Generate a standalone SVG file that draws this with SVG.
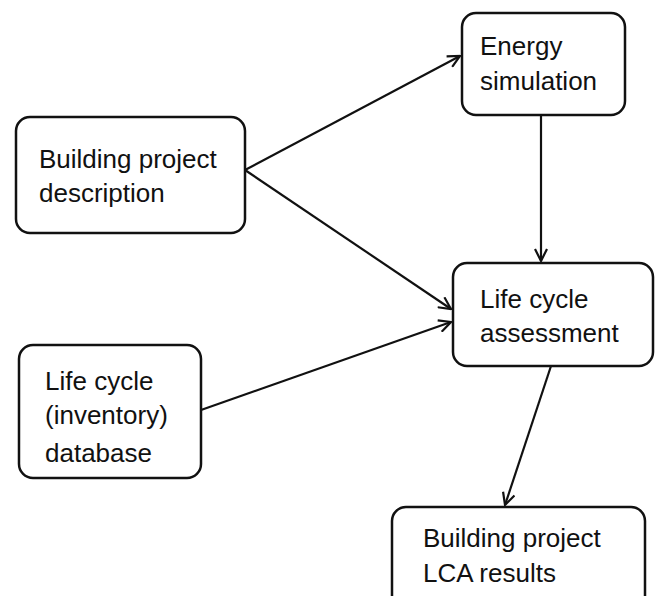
<svg xmlns="http://www.w3.org/2000/svg" width="658" height="596" viewBox="0 0 658 596">
<style>
.box{fill:#fff;stroke:#111;stroke-width:2.5}
.t{font-family:"Liberation Sans",Arial,sans-serif;font-size:26px;fill:#111}
.c{stroke:#111;stroke-width:2.2;fill:none;marker-end:url(#ah)}
</style>
<defs>
<marker id="ah" viewBox="0 0 14 14" refX="13" refY="7" markerWidth="14" markerHeight="14" markerUnits="userSpaceOnUse" orient="auto">
<path d="M1,1 L13,7 L1,13" fill="none" stroke="#111" stroke-width="2.2"/>
</marker>
</defs>
<rect width="658" height="596" fill="#fff"/>
<g id="connectors">
<line class="c" x1="245" y1="170" x2="460" y2="56"/>
<line class="c" x1="245" y1="170" x2="451" y2="309"/>
<line class="c" x1="201" y1="410" x2="451" y2="322"/>
<line class="c" x1="541" y1="115" x2="541" y2="261"/>
<line class="c" x1="551" y1="366" x2="505" y2="505"/>
</g>
<g id="building-project-description">
<rect class="box" x="16" y="117" width="229" height="116" rx="14"/>
<text class="t" x="39" y="168">Building project</text>
<text class="t" x="39" y="202">description</text>
</g>
<g id="energy-simulation">
<rect class="box" x="462" y="13" width="163" height="102" rx="14"/>
<text class="t" x="480" y="55">Energy</text>
<text class="t" x="480" y="90">simulation</text>
</g>
<g id="life-cycle-assessment">
<rect class="box" x="453" y="263" width="200" height="103" rx="14"/>
<text class="t" x="480" y="308">Life cycle</text>
<text class="t" x="480" y="342">assessment</text>
</g>
<g id="life-cycle-database">
<rect class="box" x="19" y="345" width="182" height="133" rx="14"/>
<text class="t" x="45" y="390">Life cycle</text>
<text class="t" x="45" y="424">(inventory)</text>
<text class="t" x="45" y="462">database</text>
</g>
<g id="building-project-lca-results">
<rect class="box" x="392" y="507" width="253" height="110" rx="14"/>
<text class="t" x="423" y="547">Building project</text>
<text class="t" x="423" y="582">LCA results</text>
</g>
</svg>
